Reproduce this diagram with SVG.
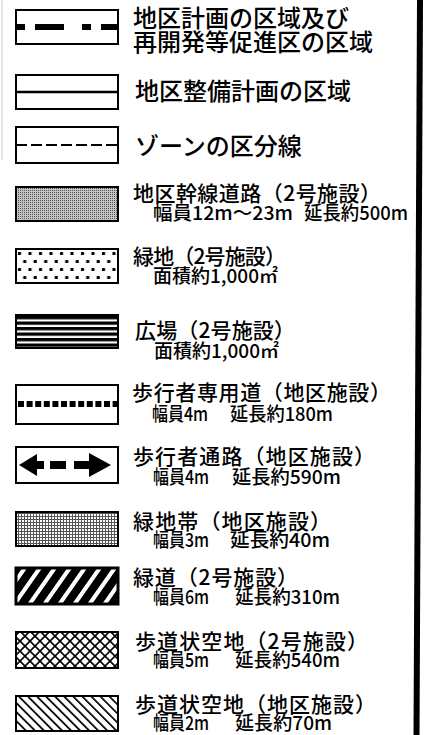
<svg xmlns="http://www.w3.org/2000/svg" width="434" height="735" viewBox="0 0 434 735">
<style>
text{font-family:"Noto Sans CJK JP","Noto Sans CJK SC",sans-serif;fill:#000;font-weight:500}
.t1{font-size:24px}
.t2{font-size:21px}
.t3{font-size:19px}
.box{stroke:#000;stroke-width:2}
</style>
<defs>
<pattern id="stip" width="2" height="2" patternUnits="userSpaceOnUse">
<rect width="2" height="2" fill="#c4c4c4"/><rect width="1" height="1" fill="#555"/>
</pattern>
<pattern id="dots" width="10.5" height="16" patternUnits="userSpaceOnUse" x="16" y="250">
<rect width="10.5" height="16" fill="#fff"/>
<rect x="2" y="2" width="3" height="3" fill="#000"/>
<rect x="7.25" y="10" width="3" height="3" fill="#000"/>
</pattern>
<pattern id="hlines" width="10" height="5.5" patternUnits="userSpaceOnUse" x="0" y="316">
<rect width="10" height="5.5" fill="#000"/><rect y="3.3" width="10" height="2.2" fill="#fff"/>
</pattern>
<pattern id="grid" width="3" height="3" patternUnits="userSpaceOnUse">
<rect width="3" height="3" fill="#fff"/><rect width="3" height="1" fill="#555"/><rect width="1" height="3" fill="#555"/>
</pattern>
<pattern id="slash" width="15" height="10" patternUnits="userSpaceOnUse" patternTransform="skewX(-35)">
<rect width="15" height="10" fill="#000"/><rect x="0" width="5" height="10" fill="#fff"/>
</pattern>
<pattern id="cross" width="7.07" height="7.07" patternUnits="userSpaceOnUse" patternTransform="rotate(45)">
<rect width="7.07" height="7.07" fill="#fff"/><rect width="7.07" height="1.7" fill="#000"/><rect width="1.7" height="7.07" fill="#000"/>
</pattern>
<pattern id="bslash" width="6.4" height="10" patternUnits="userSpaceOnUse" patternTransform="rotate(-45)">
<rect width="6.4" height="10" fill="#fff"/><rect width="1.7" height="10" fill="#000"/>
</pattern>
</defs>
<rect width="434" height="735" fill="#fff"/>
<line x1="2" y1="0" x2="2" y2="160" stroke="#c8c8c8" stroke-width="1"/>
<polygon points="417,0 423,0 419.5,735 413.5,735" fill="#000"/>

<g id="item1">
<rect class="box" x="16" y="10" width="102" height="34" fill="#fff"/>
<line x1="16" y1="27" x2="118" y2="27" stroke="#000" stroke-width="6" stroke-dasharray="9 10 29 18 9 10 30"/>
<text class="t1" x="133" y="27">地区計画の区域及び</text>
<text class="t1" x="133" y="51">再開発等促進区の区域</text>
</g>
<g id="item2">
<rect class="box" x="16" y="75" width="102" height="34" fill="#fff"/>
<line x1="16" y1="92" x2="118" y2="92" stroke="#000" stroke-width="2.5"/>
<text class="t1" x="135" y="100">地区整備計画の区域</text>
</g>
<g id="item3">
<rect class="box" x="16" y="127" width="102" height="36" fill="#fff"/>
<line x1="16" y1="145" x2="118" y2="145" stroke="#000" stroke-width="2" stroke-dasharray="11 4"/>
<text class="t1" x="135" y="155">ゾーンの区分線</text>
</g>
<g id="item4">
<rect class="box" x="16" y="187" width="102" height="34" fill="url(#stip)"/>
<text class="t2" x="133" y="201" textLength="248">地区幹線道路（2号施設）</text>
<text class="t3" x="153" y="220" textLength="140" lengthAdjust="spacingAndGlyphs">幅員12m～23m</text>
<text class="t3" x="304" y="220" textLength="104" lengthAdjust="spacingAndGlyphs">延長約500m</text>
</g>
<g id="item5">
<rect class="box" x="16" y="249" width="102" height="34" fill="url(#dots)"/>
<text class="t2" x="133" y="264" textLength="153">緑地（2号施設）</text>
<text class="t3" x="153" y="283" textLength="125" lengthAdjust="spacingAndGlyphs">面積約1,000㎡</text>
</g>
<g id="item6">
<rect class="box" x="16" y="315" width="102" height="33" fill="url(#hlines)"/>
<text class="t2" x="135" y="338" textLength="160">広場（2号施設）</text>
<text class="t3" x="154" y="358" textLength="125" lengthAdjust="spacingAndGlyphs">面積約1,000㎡</text>
</g>
<g id="item7">
<rect class="box" x="16" y="385" width="102" height="39" fill="#fff"/>
<line x1="18" y1="404" x2="117" y2="404" stroke="#000" stroke-width="6" stroke-dasharray="6 2.6"/>
<text class="t2" x="132" y="400" textLength="259">歩行者専用道（地区施設）</text>
<text class="t3" x="152" y="421" textLength="56" lengthAdjust="spacingAndGlyphs">幅員4m</text>
<text class="t3" x="230" y="421" textLength="103" lengthAdjust="spacingAndGlyphs">延長約180m</text>
</g>
<g id="item8">
<rect class="box" x="16" y="447" width="102" height="36" fill="#fff"/>
<polygon points="19,465 37,454 37,476" fill="#000"/>
<rect x="36" y="461" width="8" height="8" fill="#000"/>
<rect x="50" y="461" width="16" height="8" fill="#000"/>
<rect x="74" y="461" width="16" height="8" fill="#000"/>
<polygon points="89,453 111,465 89,477" fill="#000"/>
<text class="t2" x="133" y="464" textLength="242">歩行者通路（地区施設）</text>
<text class="t3" x="153" y="484" textLength="56" lengthAdjust="spacingAndGlyphs">幅員4m</text>
<text class="t3" x="232" y="484" textLength="109" lengthAdjust="spacingAndGlyphs">延長約590m</text>
</g>
<g id="item9">
<rect class="box" x="16" y="512" width="102" height="34" fill="url(#grid)"/>
<text class="t2" x="133" y="529" textLength="198">緑地帯（地区施設）</text>
<text class="t3" x="153" y="547" textLength="56" lengthAdjust="spacingAndGlyphs">幅員3m</text>
<text class="t3" x="230" y="547" textLength="100" lengthAdjust="spacingAndGlyphs">延長約40m</text>
</g>
<g id="item10">
<rect x="16" y="568" width="102" height="36" fill="url(#slash)" stroke="#000" stroke-width="3"/>
<text class="t2" x="133" y="585" textLength="165">緑道（2号施設）</text>
<text class="t3" x="153" y="604" textLength="56" lengthAdjust="spacingAndGlyphs">幅員6m</text>
<text class="t3" x="235" y="604" textLength="105" lengthAdjust="spacingAndGlyphs">延長約310m</text>
</g>
<g id="item11">
<rect class="box" x="16" y="632" width="102" height="36" fill="url(#cross)"/>
<text class="t2" x="135" y="649" textLength="233">歩道状空地（2号施設）</text>
<text class="t3" x="153" y="667" textLength="56" lengthAdjust="spacingAndGlyphs">幅員5m</text>
<text class="t3" x="235" y="667" textLength="105" lengthAdjust="spacingAndGlyphs">延長約540m</text>
</g>
<g id="item12">
<rect class="box" x="16" y="696" width="102" height="35" fill="url(#bslash)"/>
<text class="t2" x="135" y="712" textLength="241">歩道状空地（地区施設）</text>
<text class="t3" x="153" y="730" textLength="56" lengthAdjust="spacingAndGlyphs">幅員2m</text>
<text class="t3" x="235" y="730" textLength="97" lengthAdjust="spacingAndGlyphs">延長約70m</text>
</g>
</svg>
